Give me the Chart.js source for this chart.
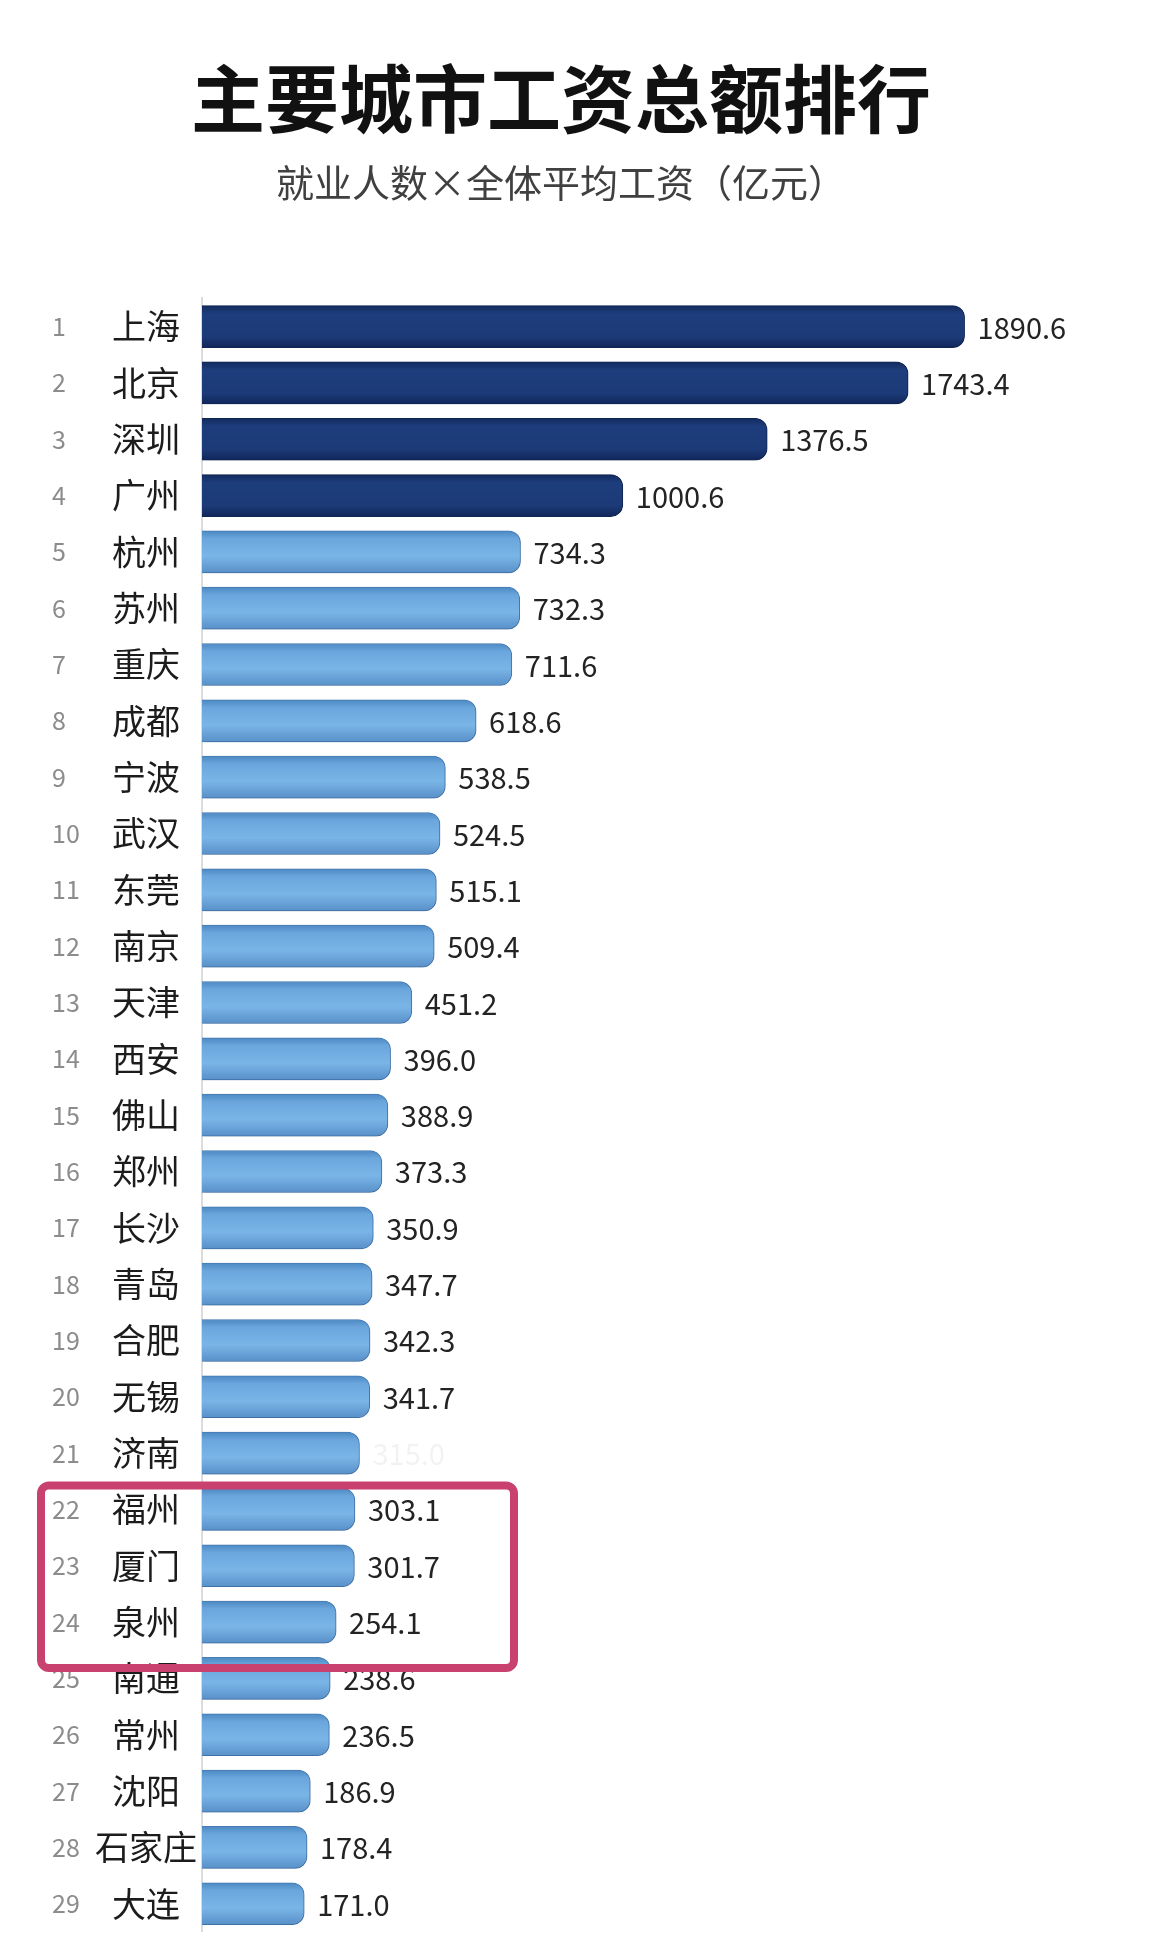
<!DOCTYPE html>
<html>
<head>
  <meta charset="UTF-8">
  <title>主要城市工资总额排行</title>
  <script src="https://cdn.jsdelivr.net/npm/chart.js"></script>
  <style>
    body {
      margin: 0;
      padding: 0;
      background: #ffffff;
    }
    #chart-container {
      width: 1152px;
      height: 1942px;
    }
  </style>
</head>
<body>
  <div id="chart-container">
    <canvas id="myChart"></canvas>
  </div>
  <script>
    // données
    const ranks = ['1', '2', '3', '4', '5', '6', '7', '8', '9', '10',
      '11', '12', '13', '14', '15', '16', '17', '18', '19', '20',
      '21', '22', '23', '24', '25', '26', '27', '28', '29'];
    const cities = ['上海', '北京', '深圳', '广州', '杭州', '苏州', '重庆', '成都', '宁波', '武汉',
      '东莞', '南京', '天津', '西安', '佛山', '郑州', '长沙', '青岛', '合肥', '无锡',
      '济南', '福州', '厦门', '泉州', '南通', '常州', '沈阳', '石家庄', '大连'];
    const wages = [1890.6, 1743.4, 1376.5, 1000.6, 734.3, 732.3, 711.6, 618.6, 538.5, 524.5,
      515.1, 509.4, 451.2, 396.0, 388.9, 373.3, 350.9, 347.7, 342.3, 341.7,
      315.0, 303.1, 301.7, 254.1, 238.6, 236.5, 186.9, 178.4, 171.0];
    const highlighted = ['福州', '厦门', '泉州'];
    const topCount = 4; // les 4 premières barres en bleu foncé

    const FONT = '"Noto Sans CJK SC", "Noto Sans", sans-serif';
    const AXIS_START = -95; // l'image ne part pas de zéro

    function barFill(c) {
      const dark = c.dataIndex < topCount;
      const chart = c.chart;
      const y = chart.scales && chart.scales.y;
      if (c.dataIndex === undefined || !y || !chart.chartArea) {
        return dark ? '#1d3b78' : '#6ba6db';
      }
      const cy = y.getPixelForValue(c.dataIndex);
      const g = chart.ctx.createLinearGradient(0, cy - 21, 0, cy + 21);
      if (dark) {
        g.addColorStop(0, '#132b5e');
        g.addColorStop(0.2, '#1e3d7c');
        g.addColorStop(0.75, '#1c3a77');
        g.addColorStop(1, '#10265a');
      } else {
        g.addColorStop(0, '#4c88c2');
        g.addColorStop(0.18, '#6aa6dc');
        g.addColorStop(0.6, '#7ab5e7');
        g.addColorStop(1, '#5890c8');
      }
      return g;
    }

    const bgPlugin = {
      id: 'fond',
      beforeDraw(chart) {
        const ctx = chart.ctx;
        ctx.save();
        ctx.fillStyle = '#ffffff';
        ctx.fillRect(0, 0, chart.width, chart.height);
        ctx.restore();
      }
    };

    const shadowPlugin = {
      id: 'ombre',
      beforeDatasetDraw(chart) {
        const ctx = chart.ctx;
        ctx.shadowColor = 'rgba(20, 40, 80, 0.28)';
        ctx.shadowBlur = 5;
        ctx.shadowOffsetX = 1;
        ctx.shadowOffsetY = 2;
      },
      afterDatasetDraw(chart) {
        const ctx = chart.ctx;
        ctx.shadowColor = 'rgba(0,0,0,0)';
        ctx.shadowBlur = 0;
        ctx.shadowOffsetX = 0;
        ctx.shadowOffsetY = 0;
      }
    };

    const valuePlugin = {
      id: 'valeurs',
      afterDatasetsDraw(chart) {
        const ctx = chart.ctx;
        const meta = chart.getDatasetMeta(0);
        ctx.save();
        ctx.font = '29px ' + FONT;
        ctx.textAlign = 'left';
        ctx.textBaseline = 'middle';
        meta.data.forEach((bar, i) => {
          // la valeur de 济南 est presque effacée sur l'image
          ctx.fillStyle = cities[i] === '济南' ? 'rgba(0,0,0,0.05)' : '#232323';
          ctx.fillText(wages[i].toFixed(1), bar.x + 13, bar.y + 1);
        });
        ctx.restore();
      }
    };

    const boxPlugin = {
      id: 'cadre',
      afterDraw(chart) {
        const y = chart.scales.y;
        const first = y.getPixelForValue(cities.indexOf(highlighted[0]));
        const last = y.getPixelForValue(cities.indexOf(highlighted[highlighted.length - 1]));
        const ctx = chart.ctx;
        ctx.save();
        ctx.strokeStyle = '#c9416f';
        ctx.lineWidth = 8;
        ctx.beginPath();
        ctx.roundRect(41, first - 24, 473, last - first + 70, 8);
        ctx.stroke();
        ctx.restore();
      }
    };

    const ctx = document.getElementById('myChart').getContext('2d');
    window.myChart = new Chart(ctx, {
      type: 'bar',
      data: {
        labels: cities,
        datasets: [{
          label: '工资总额（亿元）',
          data: wages,
          base: AXIS_START,
          backgroundColor: barFill,
          borderColor: (c) => c.dataIndex < topCount ? '#0f2452' : '#4a82ba',
          borderWidth: 1,
          borderRadius: 12,
          borderSkipped: 'start',
          barThickness: 42,
          xAxisID: 'x',
          yAxisID: 'y'
        }]
      },
      options: {
        indexAxis: 'y',
        responsive: true,
        maintainAspectRatio: false,
        animation: false,
        layout: {
          padding: { top: 0, left: 52, right: 82, bottom: 0 }
        },
        plugins: {
          legend: { display: false },
          tooltip: { enabled: false },
          title: {
            display: true,
            text: '主要城市工资总额排行',
            color: '#111111',
            font: { family: FONT, size: 74, weight: 'bold', lineHeight: 1.2 },
            padding: { top: 54, bottom: 17 }
          },
          subtitle: {
            display: true,
            text: '就业人数×全体平均工资（亿元）',
            color: '#404040',
            font: { family: FONT, size: 38, weight: 'normal', lineHeight: 1.2 },
            padding: { top: 0, bottom: 93 }
          }
        },
        scales: {
          x: {
            type: 'linear',
            min: AXIS_START,
            max: 2165,
            display: false
          },
          y: {
            type: 'category',
            position: 'left',
            weight: 0,
            offset: true,
            grid: { display: false, drawTicks: false },
            border: { display: true, color: '#dcdcdc', width: 2 },
            ticks: {
              autoSkip: false,
              crossAlign: 'center',
              padding: 5,
              color: '#1c1c1c',
              // petite hauteur de ligne : sinon l'axe réserve de la marge en bas
              font: { family: FONT, size: 34, weight: 'normal', lineHeight: 0.3 }
            },
            afterFit(scale) { scale.width = 107; }
          },
          rank: {
            type: 'category',
            axis: 'y',
            position: 'left',
            weight: 1,
            labels: ranks,
            offset: true,
            grid: { display: false, drawTicks: false },
            border: { display: false },
            ticks: {
              autoSkip: false,
              crossAlign: 'far',
              padding: 0,
              color: '#8c8c8c',
              font: { family: FONT, size: 25, weight: 'normal', lineHeight: 0.3 }
            },
            afterFit(scale) { scale.width = 43; }
          }
        }
      },
      plugins: [bgPlugin, shadowPlugin, valuePlugin, boxPlugin]
    });
  </script>
</body>
</html>
